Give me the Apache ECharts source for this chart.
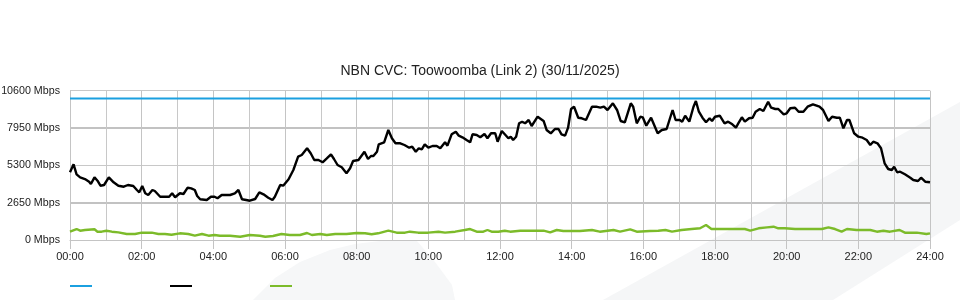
<!DOCTYPE html>
<html>
<head>
<meta charset="utf-8">
<script src="https://cdn.jsdelivr.net/npm/echarts@6/dist/echarts.min.js"></script>
<style>
html,body{margin:0;padding:0;background:#fff;}
#chart{width:960px;height:300px;}
</style>
</head>
<body>
<div id="chart"></div>
<script>
// ---- data (minutes since midnight, Mbps) ----
var chartTitle = 'NBN CVC: Toowoomba (Link 2) (30/11/2025)';
var yTicks = [0, 2650, 5300, 7950, 10600];
var xTickLabels = ['00:00','02:00','04:00','06:00','08:00','10:00','12:00','14:00','16:00','18:00','20:00','22:00','24:00'];

var capTimes = [0, 1440];
var capValues = [10050, 10050];

var dlTimes = [0,6,11,17,25,32,35,41,46,51,57,65,73,81,90,97,106,112,116,121,126,131,138,142,151,159,166,171,176,184,190,197,203,209,213,218,229,236,242,247,254,268,276,282,288,295,301,310,317,324,332,339,343,352,357,366,374,382,388,397,403,409,416,423,430,437,442,448,455,463,469,474,483,484,493,499,504,508,514,517,526,533,539,545,553,560,568,573,579,584,589,594,600,607,614,620,628,632,639,646,651,657,664,670,674,681,687,694,699,705,712,716,723,728,734,738,742,747,752,757,762,768,773,783,793,798,805,812,818,823,829,834,839,844,851,857,864,874,881,888,894,900,909,916,922,929,939,943,949,955,959,965,973,984,991,999,1009,1014,1021,1025,1030,1037,1044,1048,1053,1059,1065,1071,1075,1080,1088,1096,1102,1109,1115,1119,1125,1130,1137,1143,1148,1155,1161,1169,1174,1181,1186,1195,1200,1206,1214,1220,1228,1235,1244,1255,1261,1270,1276,1284,1289,1295,1301,1305,1313,1320,1327,1334,1340,1345,1352,1358,1364,1370,1376,1380,1385,1390,1398,1407,1412,1420,1425,1432,1440];
var dlValues = [4806,5373,4663,4450,4330,4140,3976,4450,4210,3855,3905,4450,4097,3855,3784,3905,3834,3550,3387,3834,3316,3195,3550,3479,3074,3074,3074,3316,3032,3316,3266,3713,3670,3550,3124,2890,2840,3074,3074,2960,3195,3195,3316,3550,2890,2840,2790,2911,3387,3245,3003,2840,3074,3905,3855,4310,4970,5914,6035,6510,6155,5680,5680,5517,5800,6085,5751,5325,5162,4736,5091,5609,5680,5630,6269,5751,5964,5964,6269,6795,6937,7810,7221,6866,6866,6745,6553,6624,6269,6510,6440,6795,6553,6674,6674,6510,6937,6695,7505,7689,7405,7292,7100,6937,7505,7455,7292,7526,7221,7576,7576,6979,7739,7505,7221,7334,7100,7334,8285,8400,8285,8520,8094,8754,8449,7810,7576,7881,7881,7505,7405,7973,9301,9464,8683,8641,8520,9464,9464,9393,9464,9230,9706,9230,8449,8357,9706,9464,8285,8754,8712,8115,8683,7576,7810,7881,9230,8520,8520,8400,8825,8400,9464,9869,9109,8683,8357,8641,8449,8754,8825,8285,8400,8215,7973,8285,8712,8400,8641,8683,9109,9301,9159,9819,9393,9301,9301,8925,8996,9351,9393,9109,9109,9464,9635,9464,9230,8449,8754,8683,8683,7931,8520,8520,7576,7334,7263,7100,6745,6979,6866,6510,5446,5041,4970,5204,4806,4850,4663,4423,4260,4189,4423,4140,4097];

var ulTimes = [0,11,17,25,41,46,53,61,70,81,95,109,120,137,148,159,170,184,198,209,221,232,242,251,268,285,301,318,327,340,354,368,385,397,405,419,430,444,463,480,494,505,516,533,547,561,569,583,600,617,628,645,661,670,681,692,699,706,717,728,737,754,776,793,804,815,826,854,874,887,910,921,938,949,971,985,997,1008,1024,1041,1055,1065,1074,1102,1130,1139,1153,1167,1178,1186,1197,1214,1234,1259,1270,1281,1292,1301,1317,1340,1351,1362,1373,1389,1398,1418,1434,1440];
var ulValues = [590,780,660,710,760,590,590,660,590,545,426,426,520,520,426,426,376,475,426,305,426,305,355,305,305,234,355,305,234,284,426,355,355,497,355,426,355,426,426,497,475,405,475,660,520,520,590,520,520,590,520,590,710,780,590,590,710,590,590,660,590,660,660,660,545,710,640,640,710,590,710,590,760,590,640,660,710,590,710,780,830,1065,780,780,780,660,830,900,945,830,830,780,780,780,900,780,590,780,710,710,590,660,590,710,520,520,426,475];

function pairs(t, v){ var out=[]; for (var i=0;i<t.length;i++) out.push([t[i], v[i]]); return out; }

var FONT = '"Liberation Sans", Arial, sans-serif';
var chart = echarts.init(document.getElementById('chart'), null, {renderer:'canvas'});

chart.setOption({
  animation: false,
  backgroundColor: '#ffffff',
  textStyle: {fontFamily: FONT},
  graphic: [
    {type:'polygon', z:-100, silent:true,
     shape:{points:[[603,300],[960,102],[960,220],[833,300]]},
     style:{fill:'#f5f6f7'}},
    {type:'polygon', z:-100, silent:true,
     shape:{points:[[253,300],[275,278],[300,262],[330,250],[355,244],[380,241],[417,241],[435,262],[452,285],[455,300]]},
     style:{fill:'#f6f7f8'}}
  ],
  title: {
    text: chartTitle,
    left: 'center', top: 59,
    textStyle: {fontFamily: FONT, fontSize: 14, fontWeight: 'normal', color: '#222'}
  },
  legend: {
    left: 65, top: 280,
    icon: 'rect', itemWidth: 22, itemHeight: 2, itemGap: 78,
    formatter: function(){ return ''; },
    selectedMode: false,
    data: ['Capacity','Download','Upload']
  },
  grid: {left: 70, right: 30, top: 90.7, bottom: 60, containLabel: false, outerBoundsMode: 'none'},
  xAxis: {
    type: 'value', min: 0, max: 1440, interval: 120,
    axisLine: {show: true, lineStyle: {color: '#c4c4c4', width: 1}},
    axisTick: {show: true, length: 9, lineStyle: {color: '#c4c4c4'}},
    axisLabel: {
      margin: 11, fontSize: 11, color: '#222', fontFamily: FONT,
      formatter: function(v){ return xTickLabels[Math.round(v/120)] || ''; }
    },
    splitLine: {show: true, lineStyle: {color: '#c4c4c4', width: 1}},
    minorTick: {show: false, splitNumber: 2},
    minorSplitLine: {show: true, lineStyle: {color: '#c8c8c8', width: 1}}
  },
  yAxis: [{
    type: 'value', min: 0, max: 10600, interval: 2650,
    axisLine: {show: true, lineStyle: {color: '#c4c4c4'}},
    axisTick: {show: false},
    axisLabel: {
      margin: 10, fontSize: 10.7, color: '#222', fontFamily: FONT,
      formatter: function(v){ return v + ' Mbps'; }
    },
    splitLine: {show: true, lineStyle: {color: ['#c8c8c8','#bdbdbd','#c8c8c8','#bdbdbd','#c8c8c8'], width: 1}}
  },{
    type: 'value', min: 0, max: 10600, interval: 2650, position: 'left',
    axisLine: {show: false}, axisTick: {show: false}, axisLabel: {show: false},
    splitLine: {show: true, lineStyle: {color: ['rgba(0,0,0,0)','#c2c2c2'], width: 2}}
  }],
  series: [
    {name: 'Capacity', type: 'line', data: pairs(capTimes, capValues), showSymbol: false, symbol: 'none',
     lineStyle: {color: '#1ba0e0', width: 2}, itemStyle: {color: '#1ba0e0'}, z: 3},
    {name: 'Download', type: 'line', data: pairs(dlTimes, dlValues), showSymbol: false, symbol: 'none',
     lineStyle: {color: '#000000', width: 2.4}, itemStyle: {color: '#000000'}, z: 4},
    {name: 'Upload', type: 'line', data: pairs(ulTimes, ulValues), showSymbol: false, symbol: 'none',
     lineStyle: {color: '#7cbb2a', width: 2.4}, itemStyle: {color: '#7cbb2a'}, z: 4}
  ]
});
</script>
</body>
</html>
